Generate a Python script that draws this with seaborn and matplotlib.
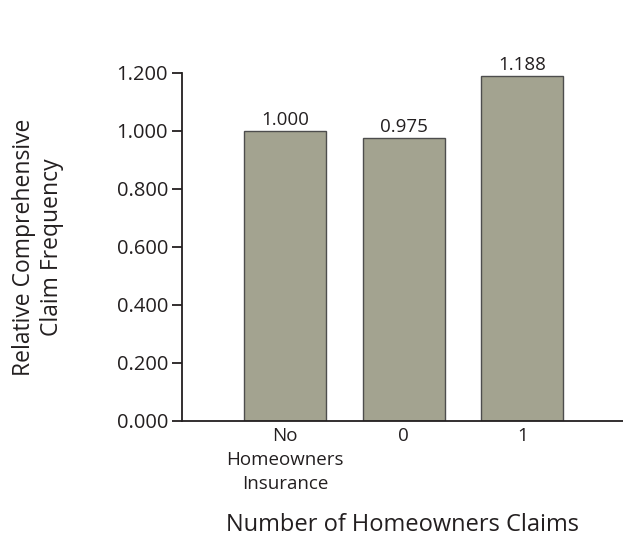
import matplotlib
matplotlib.use("Agg")
import matplotlib.pyplot as plt
import seaborn as sns
import pandas as pd

categories = ["No\nHomeowners\nInsurance", "0", "1"]
frequency = [1.000, 0.975, 1.188]
value_labels = ["1.000", "0.975", "1.188"]
y_ticks = [0.0, 0.2, 0.4, 0.6, 0.8, 1.0, 1.2]

sns.set_theme(style="white")
plt.rcParams["font.family"] = ["Open Sans", "DejaVu Sans"]
text_color = "#231f20"

df = pd.DataFrame({"claims": categories, "freq": frequency})

fig = plt.figure(figsize=(6.23, 5.37), dpi=100)
ax = fig.add_axes([182 / 623, 116 / 537, 1 - 182 / 623, 348 / 537])

sns.barplot(data=df, x="claims", y="freq", ax=ax, color="#a3a390",
            saturation=1, width=0.69, edgecolor="#4d4d4d", linewidth=1.0)

for i, (v, lab) in enumerate(zip(frequency, value_labels)):
    ax.text(i, v + 0.008, lab, ha="center", va="bottom", fontsize=13.5,
            color=text_color)

ax.set_xlim(-0.87, 2.85)
ax.set_ylim(0, 1.2)
ax.set_yticks(y_ticks)
ax.set_yticklabels([f"{t:.3f}" for t in y_ticks])

for side in ["top", "right"]:
    ax.spines[side].set_visible(False)
ax.spines["left"].set_color(text_color)
ax.spines["bottom"].set_color(text_color)
ax.spines["left"].set_linewidth(1.3)
ax.spines["bottom"].set_linewidth(1.3)

ax.tick_params(axis="y", left=True, length=7, width=1.3, color=text_color,
               labelsize=14.5, labelcolor=text_color, pad=3)
ax.tick_params(axis="x", bottom=False, labelsize=13.5, labelcolor=text_color,
               pad=-2)
for lab in ax.get_xticklabels():
    lab.set_linespacing(1.45)

ax.set_ylabel("Relative Comprehensive\nClaim Frequency", fontsize=16.5,
              color=text_color, linespacing=1.2)
ax.yaxis.set_label_coords(-0.268, 0.5)
ax.set_xlabel("Number of Homeowners Claims", fontsize=17, color=text_color)
ax.xaxis.set_label_coords(0.5, -0.265)

fig.savefig("out.png", dpi=100)
